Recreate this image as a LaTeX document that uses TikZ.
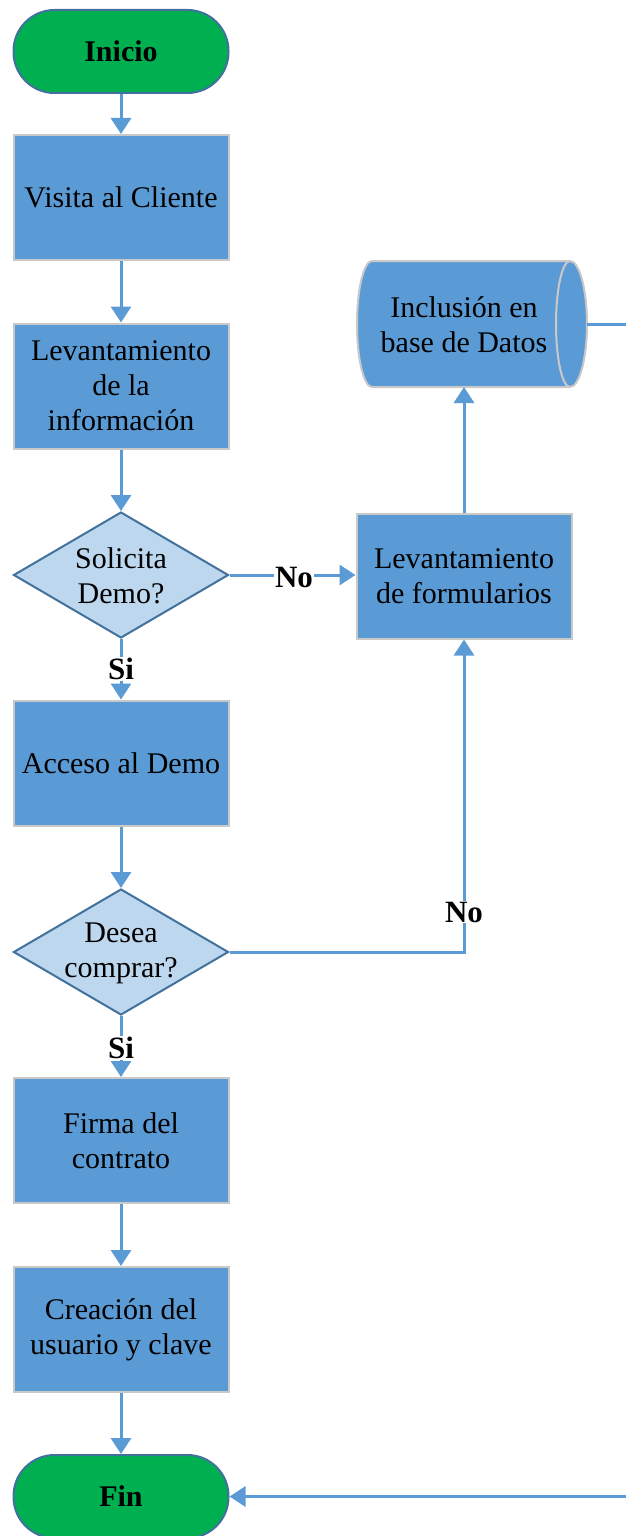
\documentclass[tikz,border=0pt]{standalone}
\usepackage{fontspec}
\setmainfont{Liberation Serif}
\usetikzlibrary{shapes.geometric,arrows.meta}
\definecolor{procblue}{HTML}{5B9BD5}
\definecolor{linkblue}{HTML}{5B9BD5}
\definecolor{decfill}{HTML}{BDD7EE}
\definecolor{edgeblue}{HTML}{41719C}
\definecolor{termgreen}{HTML}{00B050}
\definecolor{boxedge}{HTML}{C9C9C9}
\tikzset{
  x=1pt, y=-1pt,
  base/.style={font=\fontsize{30}{35}\selectfont, align=center, inner sep=0pt},
  procbox/.style={base, rectangle, fill=procblue, draw=boxedge, line width=2pt,
    minimum width=215pt, minimum height=125pt},
  terminal/.style={base, font=\fontsize{30}{35}\selectfont\bfseries, rectangle,
    rounded corners=41pt, fill=termgreen, draw=edgeblue, line width=2pt,
    minimum width=215pt, minimum height=83pt},
  decision/.style={base, diamond, fill=decfill, draw=edgeblue, line width=2pt,
    minimum width=215pt, minimum height=126pt},
  dbshape/.style={fill=procblue, draw=boxedge, line width=2pt},
  link/.style={draw=linkblue, line width=3pt,
    -{Triangle[length=16pt,width=20pt]}},
  plainlink/.style={draw=linkblue, line width=3pt},
  tag/.style={font=\fontsize{31}{35}\selectfont\bfseries, fill=white, inner sep=1pt}
}
\begin{document}
\begin{tikzpicture}
\useasboundingbox (0,0) rectangle (626,1536);

% main column
\node[terminal] (inicio) at (121,51.5) {Inicio};
\node[procbox] (visita) at (121,197.5) {Visita al Cliente};
\node[procbox] (levinfo) at (121,386) {Levantamiento\\de la\\información};
\node[decision] (demo) at (121,575) {};
\node[base] (demotxt) at (121,576) {Solicita\\Demo?};
\node[procbox] (acceso) at (121,763) {Acceso al Demo};
\node[decision] (compra) at (121,952) {};
\node[base] (compratxt) at (121,953) {Desea\\comprar?};
\node[procbox] (firma) at (121,1140.5) {Firma del\\contrato};
\node[procbox] (usuario) at (121,1329.5) {Creación del\\usuario y clave};
\node[terminal] (fin) at (121,1496.5) {Fin};

% right column
\node[procbox] (formul) at (464,576) {Levantamiento\\de formularios};

% stored-data shape
\path[dbshape] (372,261) -- (570,261)
  arc[start angle=90, end angle=-90, x radius=17pt, y radius=63pt]
  -- (372,387)
  arc[start angle=-90, end angle=-270, x radius=15pt, y radius=63pt]
  -- cycle;
\draw[draw=boxedge, line width=2pt] (570,261)
  arc[start angle=90, end angle=270, x radius=14pt, y radius=63pt];
\node[base] (db) at (464,325) {Inclusión en\\base de Datos};
\coordinate (dbbottom) at (464,387);
\coordinate (dbright) at (587,324);
\coordinate (edge) at (632,324);

% connectors
\draw[link] (inicio) -- (visita);
\draw[link] (visita) -- (levinfo);
\draw[link] (levinfo) -- (demo);
\draw[link] (demo) -- (demo -| formul.west);
\draw[link] (demo) -- (acceso);
\draw[link] (acceso) -- (compra);
\draw[link] (compra.east) -| (formul.south);
\draw[link] (compra) -- (firma);
\draw[link] (firma) -- (usuario);
\draw[link] (usuario) -- (fin);
\draw[link] (formul) -- (dbbottom);
\draw[plainlink] (dbright) -- (edge);
\draw[link] (edge) |- (fin.east);

% branch labels
\node[tag] (no1) at (294,577) {No};
\node[tag] (si1) at (121,669) {Si};
\node[tag] (no2) at (464,912) {No};
\node[tag] (si2) at (121,1048) {Si};
\end{tikzpicture}
\end{document}
